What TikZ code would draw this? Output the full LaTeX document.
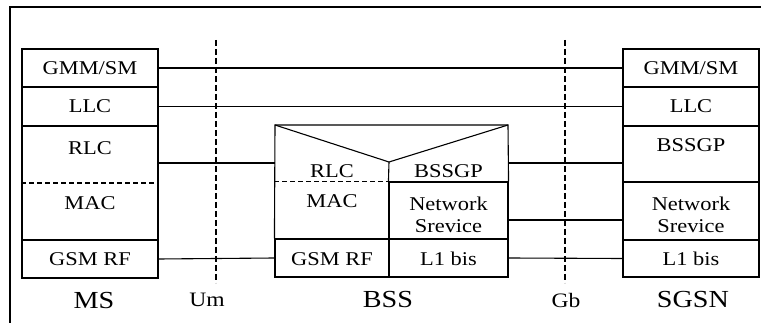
\documentclass[tikz,border=0pt]{standalone}
\usepackage{fontspec}
\setmainfont[FakeStretch=1.15]{Liberation Serif}
\tikzset{
  layer/.style={draw, inner sep=0pt, minimum width=136pt},
  txt/.style={inner sep=0pt, font=\fontsize{19.5}{22}\selectfont, align=center},
  big/.style={inner sep=0pt, font=\fontsize{24.5}{26}\selectfont},
  iface/.style={dash pattern=on 6pt off 3pt},
  sep/.style={dash pattern=on 5pt off 3pt}
}
\begin{document}
\begin{tikzpicture}[x=1pt, y=-1pt, line width=1.1pt]
    \useasboundingbox (0,0) rectangle (761,323);
    % Frame
    \draw[line width=1.3pt] (10,323) -- (10,7) -- (761,7);
    % MS stack
    \node[layer, minimum height=38pt] (msgmm) at (90,68) {};
    \node[layer, minimum height=39pt] (msllc) at (90,106.5) {};
    \node[layer, minimum height=114pt] (msrlc) at (90,183) {};
    \node[layer, minimum height=38pt] (msrf) at (90,259) {};
    \draw[sep] (msrlc.west) -- (msrlc.east);
    \node[txt] (msgmmt) at (90,68) {GMM/SM};
    \node[txt] (msllct) at (90,106.5) {LLC};
    \node[txt] (msrlct) at (90,148) {RLC};
    \node[txt] (msmact) at (90,203) {MAC};
    \node[txt] (msrft) at (90,259) {GSM RF};
    \node[big] (ms) at (94,301) {MS};
    % Um interface
    \draw[iface] (216,40) -- (216,283);
    \node[txt, font=\fontsize{20.5}{22}\selectfont] (um) at (207,300) {Um};
    % BSS
    \node[layer, minimum width=114pt, minimum height=38pt] (bssrf) at (332,258) {};
    \node[layer, minimum width=119pt, minimum height=38pt] (bssl1) at (448.5,258) {};
    \node[layer, minimum width=119pt, minimum height=57pt] (bssns) at (448.5,210.5) {};
    \coordinate (bsstl) at (275,125);
    \coordinate (bsstr) at (508,125);
    \coordinate (bssv) at (389,162);
    \draw (bssrf.north west) -- (bsstl) -- (bsstr) -- (bssns.north east);
    \draw (bsstl) -- (bssv) -- (bsstr);
    \draw (bssv) -- (bssns.north west);
    \draw[sep] (bssrf.north west |- bssns.north) -- (bssns.north west);
    \node[txt] (bssrlct) at (332,171) {RLC};
    \node[txt] (bssgpt) at (448.5,171) {BSSGP};
    \node[txt] (bssmact) at (332,201) {MAC};
    \node[txt] (bssnst) at (448.5,215) {Network\\Srevice};
    \node[txt] (bssrft) at (332,259) {GSM RF};
    \node[txt] (bssl1t) at (448.5,259) {L1 bis};
    \node[big] (bss) at (388,300) {BSS};
    % Gb interface
    \draw[iface] (565,40) -- (565,283);
    \node[txt, font=\fontsize{20.5}{22}\selectfont] (gb) at (566,300) {Gb};
    % SGSN stack
    \node[layer, minimum height=38pt] (sggmm) at (691,68) {};
    \node[layer, minimum height=39pt] (sgllc) at (691,106.5) {};
    \node[layer, minimum height=56pt] (sgbssgp) at (691,154) {};
    \node[layer, minimum height=58pt] (sgns) at (691,211) {};
    \node[layer, minimum height=37pt] (sgl1) at (691,258.5) {};
    \node[txt] (sggmmt) at (691,68) {GMM/SM};
    \node[txt] (sgllct) at (691,106.5) {LLC};
    \node[txt] (sgbssgpt) at (691,145) {BSSGP};
    \node[txt] (sgnst) at (691,215) {Network\\Srevice};
    \node[txt] (sgl1t) at (691,259) {L1 bis};
    \node[big] (sgsn) at (693,300) {SGSN};
    % Peer connections
    \coordinate (rlcport) at (bsstl |- 0,163);
    \coordinate (bssgpport) at (bsstr |- 0,163);
    \coordinate (nsport) at (bssns.east |- 0,220);
    \draw (msgmm.east) -- (sggmm.west);
    \draw (msllc.east) -- (sgllc.west);
    \draw (msrlc.east |- rlcport) -- (rlcport);
    \draw (msrf.east) -- (bssrf.west);
    \draw (bssgpport) -- (bssgpport -| sgbssgp.west);
    \draw (nsport) -- (nsport -| sgns.west);
    \draw (bssl1.east) -- (sgl1.west);
\end{tikzpicture}
\end{document}
